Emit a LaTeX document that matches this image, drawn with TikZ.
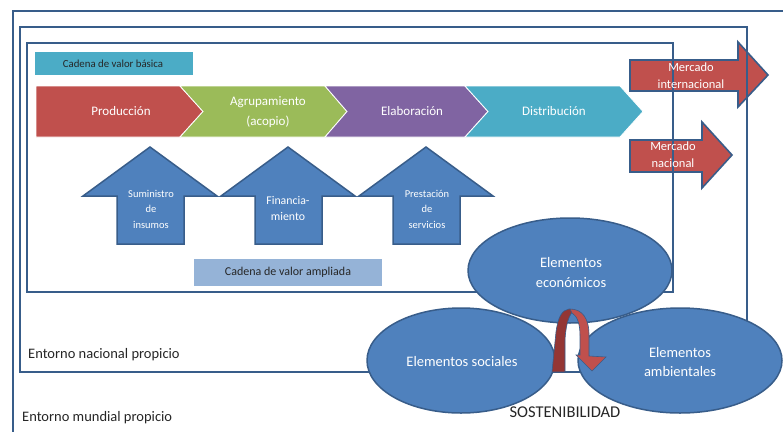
\documentclass[tikz,border=0pt]{standalone}
\usepackage{fontspec}
\setmainfont{Carlito}
\definecolor{cRed}{HTML}{C0504D}
\definecolor{cDarkRed}{HTML}{943634}
\definecolor{cGreen}{HTML}{9BBB59}
\definecolor{cPurple}{HTML}{8064A2}
\definecolor{cTeal}{HTML}{4BACC6}
\definecolor{cBlue}{HTML}{4F81BD}
\definecolor{cLine}{HTML}{385D8A}
\definecolor{cLight}{HTML}{95B3D7}
\tikzset{
  frame/.style={draw=cLine, line width=1.8pt},
  chev/.style={draw=white, line width=0.8pt, line join=miter},
  uparrow/.style={fill=cBlue, draw=cLine, line width=1.5pt, line join=miter},
  mkt/.style={fill=cRed, draw=cLine, line width=1.6pt, line join=miter},
  elem/.style={fill=cBlue, draw=cLine, line width=1.5pt},
  wtxt/.style={text=white, align=center, inner sep=0pt},
  dtxt/.style={text=black!85, align=center, inner sep=0pt},
}
\begin{document}
\begin{tikzpicture}[x=1pt, y=-1pt]
\useasboundingbox (0,0) rectangle (783,431);
\fill[white] (0,0) rectangle (783,431);

% market arrows (behind the frames)
\draw[mkt] (630,60) -- (738,60) -- (738,42) -- (768,75) -- (738,107) -- (738,91) -- (630,91) -- cycle;
\draw[mkt] (630,140) -- (702,140) -- (702,122) -- (732,155) -- (702,188) -- (702,172) -- (630,172) -- cycle;

% frames
\draw[frame] (790,11) -- (13,11) -- (13,440);
\draw[frame] (20,27) rectangle (747,372);
\draw[frame] (27,43) rectangle (673,292);

% market texts
\node[wtxt, font=\fontsize{12.5}{17}\selectfont] (mi) at (691,76) {Mercado\\internacional};
\node[wtxt, font=\fontsize{12.5}{17}\selectfont] (mn) at (673,155) {Mercado\\nacional};

% basic value chain label
\fill[cTeal] (35,52) rectangle (193,75);
\node[dtxt, font=\fontsize{10.8}{12}\selectfont] (basica) at (113,63.5) {Cadena de valor básica};

% chevrons
\fill[cRed, chev] (36,86) -- (180,86) -- (203,111.5) -- (180,137) -- (36,137) -- cycle;
\fill[cGreen, chev] (180,86) -- (325,86) -- (347,111.5) -- (325,137) -- (180,137) -- (203,111.5) -- cycle;
\fill[cPurple, chev] (325,86) -- (465,86) -- (488,111.5) -- (465,137) -- (325,137) -- (347,111.5) -- cycle;
\fill[cTeal, chev] (465,86) -- (620,86) -- (643,111.5) -- (620,137) -- (465,137) -- (488,111.5) -- cycle;
\node[wtxt, font=\fontsize{13}{20}\selectfont] (prod) at (121,111.5) {Producción};
\node[wtxt, font=\fontsize{13}{20}\selectfont] (agru) at (268,112) {Agrupamiento\\(acopio)};
\node[wtxt, font=\fontsize{13}{20}\selectfont] (elab) at (412,111.5) {Elaboración};
\node[wtxt, font=\fontsize{13}{20}\selectfont] (dist) at (554,111.5) {Distribución};

% up arrows
\foreach \dx in {0,138,276}{
  \draw[uparrow] (117+\dx,244) -- (117+\dx,196) -- (83+\dx,196) -- (150+\dx,147) -- (217+\dx,196) -- (184+\dx,196) -- (184+\dx,244) -- cycle;
}
\node[wtxt, font=\fontsize{10.5}{15.5}\selectfont] (sumi) at (151,209) {Suministro\\de\\insumos};
\node[wtxt, font=\fontsize{11.8}{16}\selectfont] (fina) at (288,208.5) {Financia-\\miento};
\node[wtxt, font=\fontsize{10.5}{15.5}\selectfont] (pres) at (427,209) {Prestación\\de\\servicios};

% extended value chain label
\fill[cLight] (194,259) rectangle (382,286);
\node[dtxt, font=\fontsize{12}{14}\selectfont] (ampl) at (288,272.5) {Cadena de valor ampliada};

% sustainability ellipses
\draw[elem] (570,270.5) ellipse [x radius=102, y radius=52.5];
\draw[elem] (461,360.5) ellipse [x radius=94, y radius=52.5];
\draw[elem] (680,360.5) ellipse [x radius=102, y radius=52.5];
\node[wtxt, font=\fontsize{14.5}{20}\selectfont] (econ) at (571,273) {Elementos\\económicos};
\node[wtxt, font=\fontsize{14.5}{20}\selectfont] (soc) at (462,362) {Elementos sociales};
\node[wtxt, font=\fontsize{14.5}{19}\selectfont] (amb) at (680,362) {Elementos\\ambientales};

% curved arrow
\fill[cDarkRed, draw=cLine, line width=0.6pt] (552,372) -- (556,332) .. controls (558,317) and (562,310) .. (569,309) -- (574,310) .. controls (569,315) and (566,323) .. (565,340) -- (565,372) -- cycle;
\fill[cRed, draw=cLine, line width=0.6pt] (570,309) .. controls (582,309) and (589,318) .. (589,335) -- (589,356) -- (606,357) -- (592,371) -- (576,355) -- (580,355) -- (580,336) .. controls (580,323) and (577,316) .. (572,313) -- cycle;

% environment labels
\node[dtxt, anchor=west, font=\fontsize{14.5}{16}\selectfont] (nac) at (28,355) {Entorno nacional propicio};
\node[dtxt, anchor=west, font=\fontsize{14.5}{16}\selectfont] (mun) at (22,418) {Entorno mundial propicio};
\node[dtxt, font=\fontsize{16.5}{18}\selectfont] (sost) at (565,412) {SOSTENIBILIDAD};
\end{tikzpicture}
\end{document}
